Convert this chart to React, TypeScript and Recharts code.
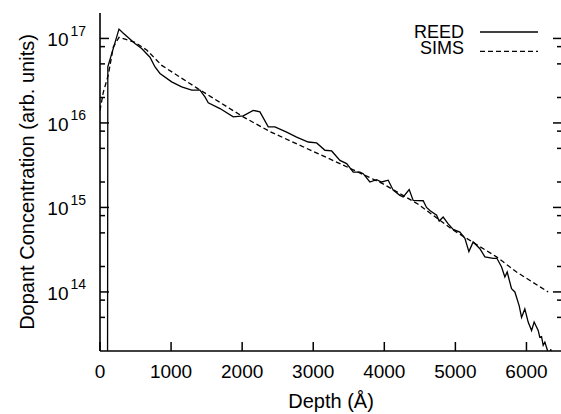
import { LineChart, Line, XAxis, YAxis, Legend } from 'recharts';

// REED profile, depth in Å and concentration (arb. units)
const reedDepth = [
  105, 110, 267, 328, 492, 586, 703, 774, 844, 1008, 1149, 1290, 1406, 1477, 1523, 1688, 1875, 2015,
  2156, 2250, 2367, 2461, 2626, 2766, 2930, 3048, 3165, 3259, 3376, 3470, 3563, 3657, 3703, 3797,
  3891, 3962, 4055, 4125, 4219, 4266, 4350, 4406, 4547, 4594, 4641, 4736, 4772, 4828, 4899, 4969,
  5063, 5134, 5190, 5250, 5345, 5415, 5532, 5584, 5650, 5696, 5729, 5790, 5837, 5897, 5931, 5977,
  6024, 6072, 6108, 6165, 6188, 6212, 6235, 6259, 6296, 6315, 6343, 6371,
];
const reedConc = [
  1e12, 4.6e16, 1.29e17, 1.15e17, 8.7e16, 7.6e16, 6.0e16, 4.6e16, 3.85e16, 3.06e16, 2.67e16, 2.44e16,
  2.44e16, 2.03e16, 1.73e16, 1.48e16, 1.18e16, 1.21e16, 1.41e16, 1.35e16, 9.0e15, 9.0e15, 7.8e15,
  6.8e15, 5.95e15, 5.8e15, 4.75e15, 4.66e15, 3.6e15, 3.3e15, 2.62e15, 2.62e15, 2.51e15, 2.0e15,
  2.13e15, 2.0e15, 2.1e15, 1.6e15, 1.39e15, 1.33e15, 1.63e15, 1.21e15, 1.2e15, 1.0e15, 9.2e14, 8.1e14,
  6.9e14, 7.7e14, 6.4e14, 5.5e14, 5.1e14, 4.3e14, 3.0e14, 3.9e14, 3.25e14, 2.6e14, 2.5e14, 2.5e14,
  1.97e14, 1.5e14, 1.72e14, 1.09e14, 1.0e14, 6.9e13, 5.0e13, 6.3e13, 4.4e13, 3.5e13, 4.4e13, 3.5e13,
  2.9e13, 2.95e13, 2.33e13, 2.55e13, 2.03e13, 1.7e13, 2.1e13, 1.2e13,
];

// SIMS profile
const simsDepth = [0, 46, 117, 187, 267, 492, 657, 868, 1360, 2015, 2391, 3376, 3984, 4477, 4969, 5579, 5861, 6305];
const simsConc = [
  1.4e16, 2.3e16, 3.7e16, 7.9e16, 1.03e17, 9.0e16, 7.3e16, 4.8e16, 2.6e16, 1.18e16, 7.9e15, 3.3e15,
  1.9e15, 1.09e15, 5.4e14, 2.6e14, 1.72e14, 1.0e14,
];

const xTicks = [0, 1000, 2000, 3000, 4000, 5000, 6000];
const yMajor = [1e14, 1e15, 1e16, 1e17];
const yMajorExp = ['14', '15', '16', '17'];
const yMinor = [5e13, 8e13, 2e14, 5e14, 8e14, 2e15, 5e15, 8e15, 2e16, 5e16, 8e16];
const yTicks = [...yMinor, ...yMajor].sort((a, b) => a - b);

const reedData = reedDepth.map((d, i) => ({ d, c: reedConc[i] }));
const simsData = simsDepth.map((d, i) => ({ d, c: simsConc[i] }));

const font = '"Liberation Sans", Arial, Helvetica, sans-serif';
const ink = '#000';

const BottomTick = ({ x, y, payload }: any) => (
  <g>
    <line x1={x} y1={y} x2={x} y2={y - 9} stroke={ink} strokeWidth={1.5} />
    <text x={x} y={y + 27} textAnchor="middle" fontSize={19} fontFamily={font} fill={ink}>
      {payload.value}
    </text>
  </g>
);

const TopTick = ({ x, y }: any) => (
  <line x1={x} y1={y} x2={x} y2={y + 9} stroke={ink} strokeWidth={1.5} />
);

const LeftTick = ({ x, y, payload }: any) => {
  const i = yMajor.indexOf(payload.value);
  const major = i >= 0;
  return (
    <g>
      <line x1={x} y1={y} x2={x + (major ? 9 : 5)} y2={y} stroke={ink} strokeWidth={1.5} />
      {major && (
        <g fontFamily={font} fill={ink}>
          <text x={x - 31.5} y={y + 8} textAnchor="end" fontSize={19}>10</text>
          <text x={x - 29.5} y={y - 2.5} textAnchor="start" fontSize={14}>{yMajorExp[i]}</text>
        </g>
      )}
    </g>
  );
};

const RightTick = ({ x, y, payload }: any) => {
  const major = yMajor.indexOf(payload.value) >= 0;
  return <line x1={x} y1={y} x2={x - (major ? 9 : 5)} y2={y} stroke={ink} strokeWidth={1.5} />;
};

const yLabel = () => (
  <text
    x={34}
    y={182}
    transform="rotate(-90, 34, 182)"
    textAnchor="middle"
    fontSize={20}
    fontFamily={font}
    fill={ink}
  >
    Dopant Concentration (arb. units)
  </text>
);

const xLabel = () => (
  <text x={331} y={408} textAnchor="middle" fontSize={20} fontFamily={font} fill={ink}>
    Depth (Å)
  </text>
);

const renderLegend = ({ payload }: any) => (
  <svg width={150} height={42} style={{ display: 'block' }}>
    {(payload || []).map((entry: any, i: number) => {
      const ty = i === 0 ? 18 : 34;
      const ly = i === 0 ? 12 : 31.3;
      return (
        <g key={entry.value}>
          <text x={54} y={ty} textAnchor="end" fontSize={18} fontFamily={font} fill={ink}>
            {entry.value}
          </text>
          <line
            x1={70}
            x2={128}
            y1={ly}
            y2={ly}
            stroke={ink}
            strokeWidth={1.3}
            strokeDasharray={entry.payload?.strokeDasharray}
          />
        </g>
      );
    })}
  </svg>
);

export default function App() {
  return (
    <div style={{ position: 'absolute', left: 0, top: 0, width: 561, height: 414, overflow: 'hidden', background: '#fff' }}>
      <LineChart width={563} height={414} margin={{ top: 13, right: 0, bottom: 0, left: 0 }}>
        <XAxis
          xAxisId="bottom"
          dataKey="d"
          type="number"
          domain={[0, 6500]}
          ticks={xTicks}
          interval={0}
          allowDataOverflow
          height={63}
          tickSize={0}
          tickMargin={0}
          tickLine={false}
          axisLine={{ stroke: ink, strokeWidth: 1.6 }}
          tick={BottomTick}
          label={xLabel}
        />
        <XAxis
          xAxisId="top"
          orientation="top"
          type="number"
          domain={[0, 6500]}
          ticks={xTicks}
          interval={0}
          allowDataOverflow
          height={0}
          tickSize={0}
          tickMargin={0}
          tickLine={false}
          axisLine={{ stroke: ink, strokeWidth: 1.6 }}
          tick={TopTick}
        />
        <YAxis
          yAxisId="left"
          scale="log"
          type="number"
          domain={[2e13, 2e17]}
          ticks={yTicks}
          interval={0}
          allowDataOverflow
          width={100}
          tickSize={0}
          tickMargin={0}
          tickLine={false}
          axisLine={{ stroke: ink, strokeWidth: 1.6 }}
          tick={LeftTick}
          label={yLabel}
        />
        <YAxis
          yAxisId="right"
          orientation="right"
          scale="log"
          type="number"
          domain={[2e13, 2e17]}
          ticks={yTicks}
          interval={0}
          allowDataOverflow
          width={1}
          tickSize={0}
          tickMargin={0}
          tickLine={false}
          axisLine={{ stroke: ink, strokeWidth: 1.6 }}
          tick={RightTick}
        />
        <Legend
          layout="horizontal"
          verticalAlign="middle"
          align="center"
          content={renderLegend}
          wrapperStyle={{ top: 20, left: 410, width: 150, height: 42 }}
        />
        <Line
          name="REED"
          data={reedData}
          dataKey="c"
          xAxisId="bottom"
          yAxisId="left"
          type="linear"
          stroke={ink}
          strokeWidth={1.3}
          dot={false}
          activeDot={false}
          isAnimationActive={false}
        />
        <Line
          name="SIMS"
          data={simsData}
          dataKey="c"
          xAxisId="bottom"
          yAxisId="left"
          type="linear"
          stroke={ink}
          strokeWidth={1.3}
          strokeDasharray="5 3"
          dot={false}
          activeDot={false}
          isAnimationActive={false}
        />
      </LineChart>
    </div>
  );
}
